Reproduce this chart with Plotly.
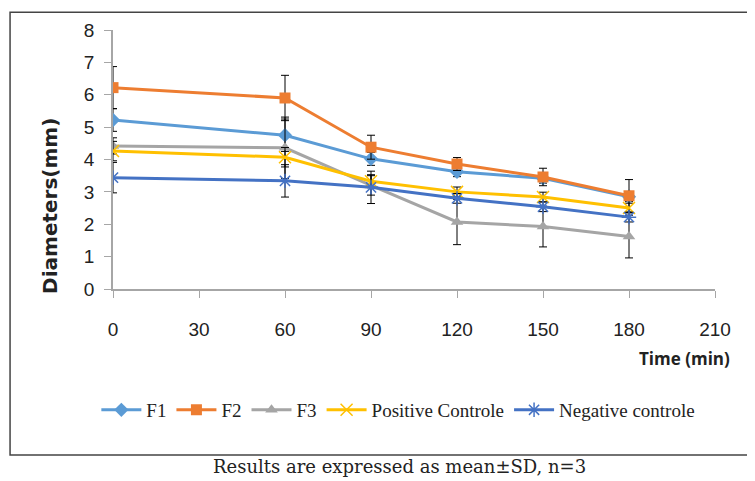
import plotly.graph_objects as go

time = [0, 60, 90, 120, 150, 180]
f1 = [5.22, 4.75, 4.02, 3.62, 3.42, 2.85]
f2 = [6.22, 5.90, 4.38, 3.86, 3.46, 2.88]
f3 = [4.42, 4.36, 3.20, 2.07, 1.93, 1.62]
pos = [4.26, 4.07, 3.33, 3.00, 2.84, 2.50]
neg = [3.44, 3.34, 3.14, 2.80, 2.54, 2.22]

f1_sd = [0.35, 0.50, 0.20, 0.15, 0.15, 0.15]
f2_sd = [0.65, 0.70, 0.37, 0.20, 0.27, 0.50]
f3_sd = [0.25, 0.95, 0.30, 0.70, 0.63, 0.66]
pos_sd = [0.30, 0.30, 0.20, 0.15, 0.15, 0.15]
neg_sd = [0.47, 0.50, 0.50, 0.15, 0.15, 0.15]

names = ["F1", "F2", "F3", "Positive Controle", "Negative controle"]
colors = ["#5B9BD5", "#ED7D31", "#A5A5A5", "#FFC000", "#4472C4"]
symbols = ["diamond", "square", "triangle-up", "x-thin", "asterisk"]
values = [f1, f2, f3, pos, neg]
sds = [f1_sd, f2_sd, f3_sd, pos_sd, neg_sd]

fig = go.Figure()
for n, c, s, v, e in zip(names, colors, symbols, values, sds):
    thin = s in ("x-thin", "asterisk")
    fig.add_trace(go.Scatter(
        x=time, y=v, name=n, mode="lines+markers",
        line=dict(color=c, width=3),
        marker=dict(symbol=s, size=11 if not thin else 12, color=c,
                    line=dict(color=c, width=1.5 if thin else 0)),
        error_y=dict(type="data", array=e, visible=True, color="black",
                     thickness=1, width=4),
    ))

tickfont = dict(family="Liberation Sans", size=19, color="#222")
fig.update_layout(
    width=755, height=481,
    paper_bgcolor="white", plot_bgcolor="white",
    margin=dict(l=105, r=48, t=22, b=200),
    xaxis=dict(range=[0, 210], tickvals=[0, 30, 60, 90, 120, 150, 180, 210],
               showgrid=False, zeroline=False, showline=True, linecolor="#A6A6A6",
               linewidth=1.5, ticks="outside", tickcolor="#A6A6A6", ticklen=7,
               tickfont=tickfont, ticklabelstandoff=15),
    yaxis=dict(range=[0, 8], dtick=1, showgrid=False, zeroline=False,
               showline=True, linecolor="#A6A6A6", linewidth=1.5,
               ticks="outside", tickcolor="#A6A6A6", ticklen=7,
               tickfont=tickfont, ticklabelstandoff=6),
    legend=dict(orientation="h", x=0.474, xanchor="center", y=-0.467, yanchor="middle",
                font=dict(family="Liberation Serif", size=19, color="#222"),
                itemwidth=40, tracegroupgap=0),
    showlegend=True,
)
fig.add_annotation(text="<b>Diameters(mm)</b>", xref="paper", yref="paper",
                   x=-0.105, y=0.32, xanchor="center", yanchor="middle",
                   textangle=-90, showarrow=False,
                   font=dict(family="DejaVu Sans", size=20, color="#222"))
fig.add_annotation(text="<b>Time (min)</b>", xref="paper", yref="paper",
                   x=0.95, y=-0.27, xanchor="center", yanchor="middle", showarrow=False,
                   font=dict(family="Open Sans", size=17, color="#222"))
fig.add_annotation(text="Results are expressed as mean±SD, n=3", xref="paper", yref="paper",
                   x=0.476, y=-0.687, xanchor="center", yanchor="middle", showarrow=False,
                   font=dict(family="DejaVu Serif", size=18, color="#222"))
fig.add_shape(type="rect", xref="paper", yref="paper",
              x0=-0.171, x1=1.08, y0=-0.641, y1=1.069,
              line=dict(color="#444", width=1.5))
fig.write_html("out.html")
